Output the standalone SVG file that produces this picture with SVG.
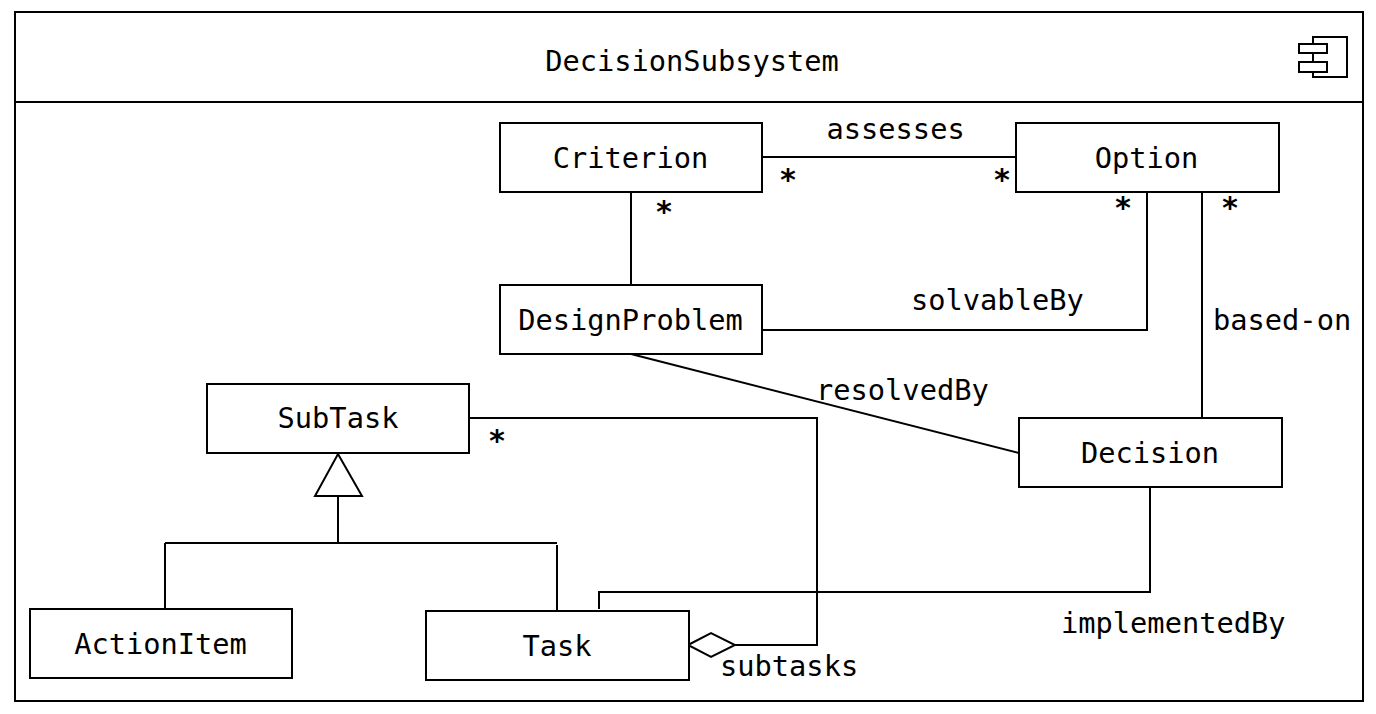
<svg xmlns="http://www.w3.org/2000/svg" width="1376" height="714" viewBox="0 0 1376 714">
<style>
.b{fill:#fff;stroke:#000;stroke-width:2}
.l{fill:none;stroke:#000;stroke-width:2}
text{font-family:"DejaVu Sans Mono","Liberation Mono",monospace;font-size:28.7px;fill:#000}
.m{text-anchor:middle}
.s{font-size:30px;font-weight:bold}
</style>
<rect width="1376" height="714" fill="#fff"/>
<g id="frame">
<rect class="l" x="15" y="12" width="1348" height="689"/>
<path class="l" d="M15 102H1363"/>
<text class="m" x="692" y="71">DecisionSubsystem</text>
<path class="l" d="M1313 43V37H1347V77H1313V72M1313 53V62"/>
<rect class="l" x="1299" y="44" width="28" height="9"/>
<rect class="l" x="1299" y="62" width="28" height="10"/>
</g>
<g id="connectors">
<path class="l" d="M763 157H1016"/>
<path class="l" d="M631 192V285"/>
<path class="l" d="M763 330H1147V192"/>
<path class="l" d="M1202 192V418"/>
<path class="l" d="M631 354L1019 453"/>
<path class="l" d="M470 418H817V645H735"/>
<path class="l" d="M1150 487V592H599V609"/>
<path class="l" d="M338 496V543M165 543H557M165 543V609M557 545V611"/>
<path class="b" d="M338 454L362 496H315Z"/>
<path class="b" d="M688 645L711 633L735 645L711 657Z"/>
</g>
<g id="criterion"><rect class="b" x="500" y="123" width="262" height="69"/><text class="m" x="630.500" y="168">Criterion</text></g>
<g id="option"><rect class="b" x="1016" y="123" width="263" height="69"/><text class="m" x="1146.500" y="168">Option</text></g>
<g id="designproblem"><rect class="b" x="500" y="285" width="262" height="69"/><text class="m" x="630.500" y="330">DesignProblem</text></g>
<g id="subtask"><rect class="b" x="207" y="384" width="262" height="69"/><text class="m" x="338" y="428">SubTask</text></g>
<g id="decision"><rect class="b" x="1019" y="418" width="263" height="69"/><text class="m" x="1150" y="463">Decision</text></g>
<g id="actionitem"><rect class="b" x="30" y="609" width="262" height="69"/><text class="m" x="160.500" y="654">ActionItem</text></g>
<g id="task"><rect class="b" x="426" y="611" width="263" height="69"/><text class="m" x="557" y="656">Task</text></g>
<g id="labels">
<text x="826.500" y="139">assesses</text>
<text x="911" y="310">solvableBy</text>
<text x="1213" y="330">based-on</text>
<text x="816" y="400">resolvedBy</text>
<text x="1061" y="633">implementedBy</text>
<text x="720" y="676">subtasks</text>
<text class="m s" x="788" y="190">*</text>
<text class="m s" x="1002" y="190">*</text>
<text class="m s" x="664" y="222">*</text>
<text class="m s" x="1123" y="218">*</text>
<text class="m s" x="1230" y="218">*</text>
<text class="m s" x="497" y="451">*</text>
</g>
</svg>
